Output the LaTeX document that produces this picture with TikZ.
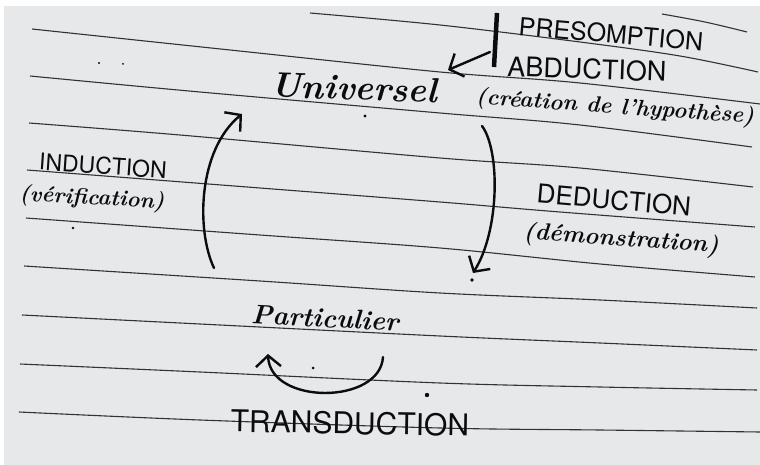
\documentclass[tikz,border=0pt]{standalone}
\usepackage{fontspec}
\newfontfamily\capsf{TeX Gyre Heros}
\usetikzlibrary{arrows.meta}
\definecolor{paper}{RGB}{231,232,234}
\definecolor{rulec}{RGB}{50,50,54}
\definecolor{ink}{RGB}{12,12,12}
\tikzset{
  ruleline/.style={draw=rulec, line width=1.1pt},
  caps/.style={text=ink, inner sep=0pt, transform shape, font=\capsf\fontsize{#1}{#1}\selectfont},
  cursive/.style={text=ink, inner sep=0pt, transform shape, font=\bfseries\itshape\fontsize{#1}{#1}\selectfont},
  inkarrow/.style={draw=ink, line width=2.4pt, line cap=round,
    -{Straight Barb[length=11pt,width=25pt,line width=2.4pt]}},
  speck/.style={fill=ink}
}
\begin{document}
\begin{tikzpicture}[x=1pt,y=-1pt]
\useasboundingbox (0,0) rectangle (760,465);
\fill[white] (0,0) rectangle (760,465);
\fill[paper] (4,6) rectangle (760,465);

% ruled lines of the paper
\draw[ruleline] plot[smooth,tension=0.55] coordinates {(662,14) (705,22) (747,32)};
\draw[ruleline] plot[smooth,tension=0.55] coordinates {(310,13) (440,25) (580,42) (680,56) (758,72)};
\draw[ruleline] plot[smooth,tension=0.55] coordinates {(32,29) (230,50) (440,72) (580,83) (760,104)};
\draw[ruleline] plot[smooth,tension=0.55] coordinates {(30,76) (200,92) (440,113) (580,125) (752,147)};
\draw[ruleline] plot[smooth,tension=0.55] coordinates {(29,123) (180,135) (440,158) (580,168) (753,187)};
\draw[ruleline] plot[smooth,tension=0.55] coordinates {(27,170) (260,188) (440,202) (560,212) (755,227)};
\draw[ruleline] plot[smooth,tension=0.55] coordinates {(26,218) (260,235) (440,248) (600,264) (755,277)};
\draw[ruleline] plot[smooth,tension=0.55] coordinates {(24,266) (260,281) (440,293) (600,300) (757,308)};
\draw[ruleline] plot[smooth,tension=0.55] coordinates {(22,315) (200,324) (440,336) (600,343) (757,350)};
\draw[ruleline] plot[smooth,tension=0.55] coordinates {(20,364) (200,372) (440,383) (600,387) (757,390)};
\draw[ruleline] plot[smooth,tension=0.55] coordinates {(19,412) (200,420) (440,428) (600,430) (760,432)};

% texts
\node[caps=25, rotate=-5] (presomption) at (611,34) {PRESOMPTION};
\node[caps=27, rotate=-2] (abduction) at (587,69) {ABDUCTION};
\node[cursive=22.5, rotate=-4] (creation) at (615,108) {(création de l'hypothèse)};
\node[cursive=35, rotate=-2] (universel) at (354,88) {Universel};
\node[caps=23, rotate=-4] (induction) at (103,166) {INDUCTION};
\node[cursive=22, rotate=-3] (verif) at (92,199) {(vérification)};
\node[caps=26, rotate=-5] (deduction) at (614,200) {DEDUCTION};
\node[cursive=24, rotate=-4] (demo) at (621,240) {(démonstration)};
\node[cursive=27, rotate=-3] (particulier) at (325,318) {Particulier};
\node[caps=30, rotate=-1] (transduction) at (350,423) {TRANSDUCTION};

% bar and arrows
\coordinate (barTop) at (497,13);
\coordinate (barBot) at (494,67);
\draw[ink, line width=4.5pt] (barTop) -- (barBot);
\coordinate (abdS) at (490,52);
\coordinate (abdE) at (448,70);
\draw[inkarrow] (abdS) -- (abdE);

\coordinate (indS) at (214,268);
\coordinate (indE) at (242,114);
\draw[inkarrow] (indS) .. controls (196,230) and (198,150) .. (indE);

\coordinate (dedS) at (482,126);
\coordinate (dedE) at (473,273);
\draw[inkarrow] (dedS) .. controls (500,150) and (500,230) .. (dedE);

\coordinate (traS) at (383,357);
\coordinate (traE) at (268,354);
\draw[inkarrow] (traS) .. controls (380,405) and (270,405) .. (traE);

% specks on the page
\fill[speck] (427,395) circle (2.2);
\fill[speck] (472,280) circle (1.8);
\fill[speck] (365,116) circle (1.6);
\fill[speck] (313,368) circle (1.5);
\fill[speck] (73,228) circle (1.3);
\fill[speck] (99,63) circle (1.2);
\fill[speck] (123,64) circle (1.0);
\end{tikzpicture}
\end{document}
